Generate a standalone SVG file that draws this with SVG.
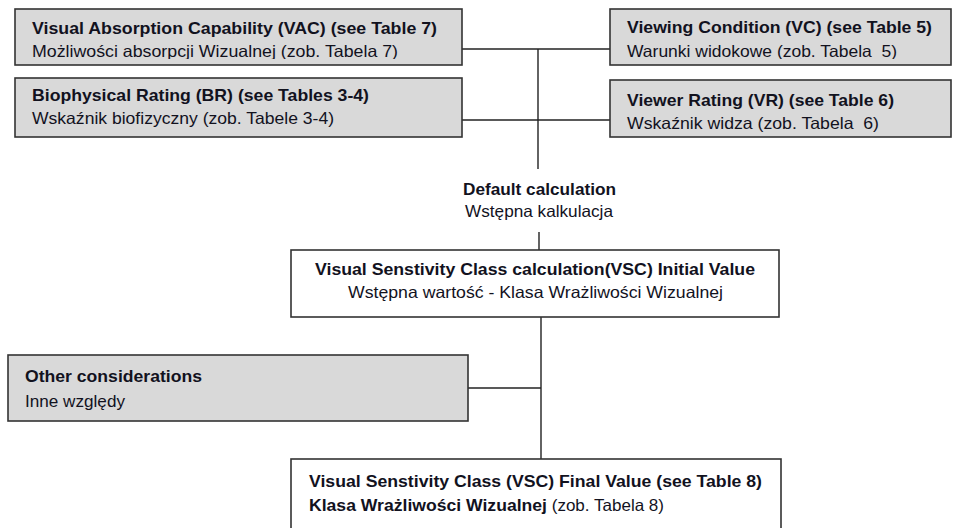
<svg xmlns="http://www.w3.org/2000/svg" width="953" height="528" viewBox="0 0 953 528">
<style>
.g{fill:#d9d9d9;stroke:#333;stroke-width:1.6}
.w{fill:#fff;stroke:#333;stroke-width:1.6}
.c{stroke:#222;stroke-width:1.4;fill:none}
text{font-family:"Liberation Sans",Arial,sans-serif;font-size:16.5px;fill:#12121e}
.b{font-weight:bold}
</style>
<defs>
<clipPath id="cVAC"><rect x="15" y="9" width="447" height="50"/></clipPath>
<clipPath id="cVC"><rect x="609" y="9" width="344" height="50"/></clipPath>
</defs>
<rect width="953" height="528" fill="#fff"/>
<g id="connectors">
<line class="c" x1="462" y1="49" x2="610" y2="49"/>
<line class="c" x1="462" y1="120" x2="610" y2="120"/>
<line class="c" x1="538" y1="49" x2="538" y2="169"/>
<line class="c" x1="539" y1="232" x2="539" y2="250"/>
<line class="c" x1="541" y1="317" x2="541" y2="459"/>
<line class="c" x1="468" y1="388" x2="541" y2="388"/>
</g>
<g id="vac">
<rect class="g" x="15" y="9" width="447" height="56"/>
<g clip-path="url(#cVAC)">
<text class="b" x="32" y="34" textLength="405" lengthAdjust="spacingAndGlyphs">Visual Absorption Capability (VAC) (see Table 7)</text>
<text x="32" y="57" textLength="366" lengthAdjust="spacingAndGlyphs">Możliwości absorpcji Wizualnej (zob. Tabela 7)</text>
</g>
</g>
<g id="br">
<rect class="g" x="15" y="78" width="447" height="59"/>
<text class="b" x="32" y="101" textLength="337" lengthAdjust="spacingAndGlyphs">Biophysical Rating (BR) (see Tables 3-4)</text>
<text x="32" y="124" textLength="302" lengthAdjust="spacingAndGlyphs">Wskaźnik biofizyczny (zob. Tabele 3-4)</text>
</g>
<g id="vc">
<rect class="g" x="610" y="9" width="341" height="56"/>
<g clip-path="url(#cVC)">
<text class="b" x="627" y="33" textLength="305" lengthAdjust="spacingAndGlyphs">Viewing Condition (VC) (see Table 5)</text>
<text x="627" y="57" textLength="270" lengthAdjust="spacingAndGlyphs" xml:space="preserve">Warunki widokowe (zob. Tabela  5)</text>
</g>
</g>
<g id="vr">
<rect class="g" x="610" y="80" width="341" height="57"/>
<text class="b" x="627" y="106" textLength="267" lengthAdjust="spacingAndGlyphs">Viewer Rating (VR) (see Table 6)</text>
<text x="627" y="129" textLength="252" lengthAdjust="spacingAndGlyphs" xml:space="preserve">Wskaźnik widza (zob. Tabela  6)</text>
</g>
<g id="default">
<text class="b" x="463" y="195" textLength="153" lengthAdjust="spacingAndGlyphs">Default calculation</text>
<text x="465" y="217" textLength="148" lengthAdjust="spacingAndGlyphs">Wstępna kalkulacja</text>
</g>
<g id="initial">
<rect class="w" x="291" y="250" width="488" height="67"/>
<text class="b" x="315" y="275" textLength="440" lengthAdjust="spacingAndGlyphs">Visual Senstivity Class calculation(VSC) Initial Value</text>
<text x="348" y="298" textLength="375" lengthAdjust="spacingAndGlyphs">Wstępna wartość - Klasa Wrażliwości Wizualnej</text>
</g>
<g id="other">
<rect class="g" x="8" y="355" width="460" height="66"/>
<text class="b" x="25" y="382" textLength="177" lengthAdjust="spacingAndGlyphs">Other considerations</text>
<text x="25" y="407" textLength="100" lengthAdjust="spacingAndGlyphs">Inne względy</text>
</g>
<g id="final">
<rect class="w" x="291" y="459" width="490" height="80"/>
<text class="b" x="309" y="487" textLength="453" lengthAdjust="spacingAndGlyphs">Visual Senstivity Class (VSC) Final Value (see Table 8)</text>
<text x="309" y="511"><tspan class="b" textLength="238" lengthAdjust="spacingAndGlyphs">Klasa Wrażliwości Wizualnej</tspan><tspan textLength="117" lengthAdjust="spacingAndGlyphs"> (zob. Tabela 8)</tspan></text>
</g>
</svg>
